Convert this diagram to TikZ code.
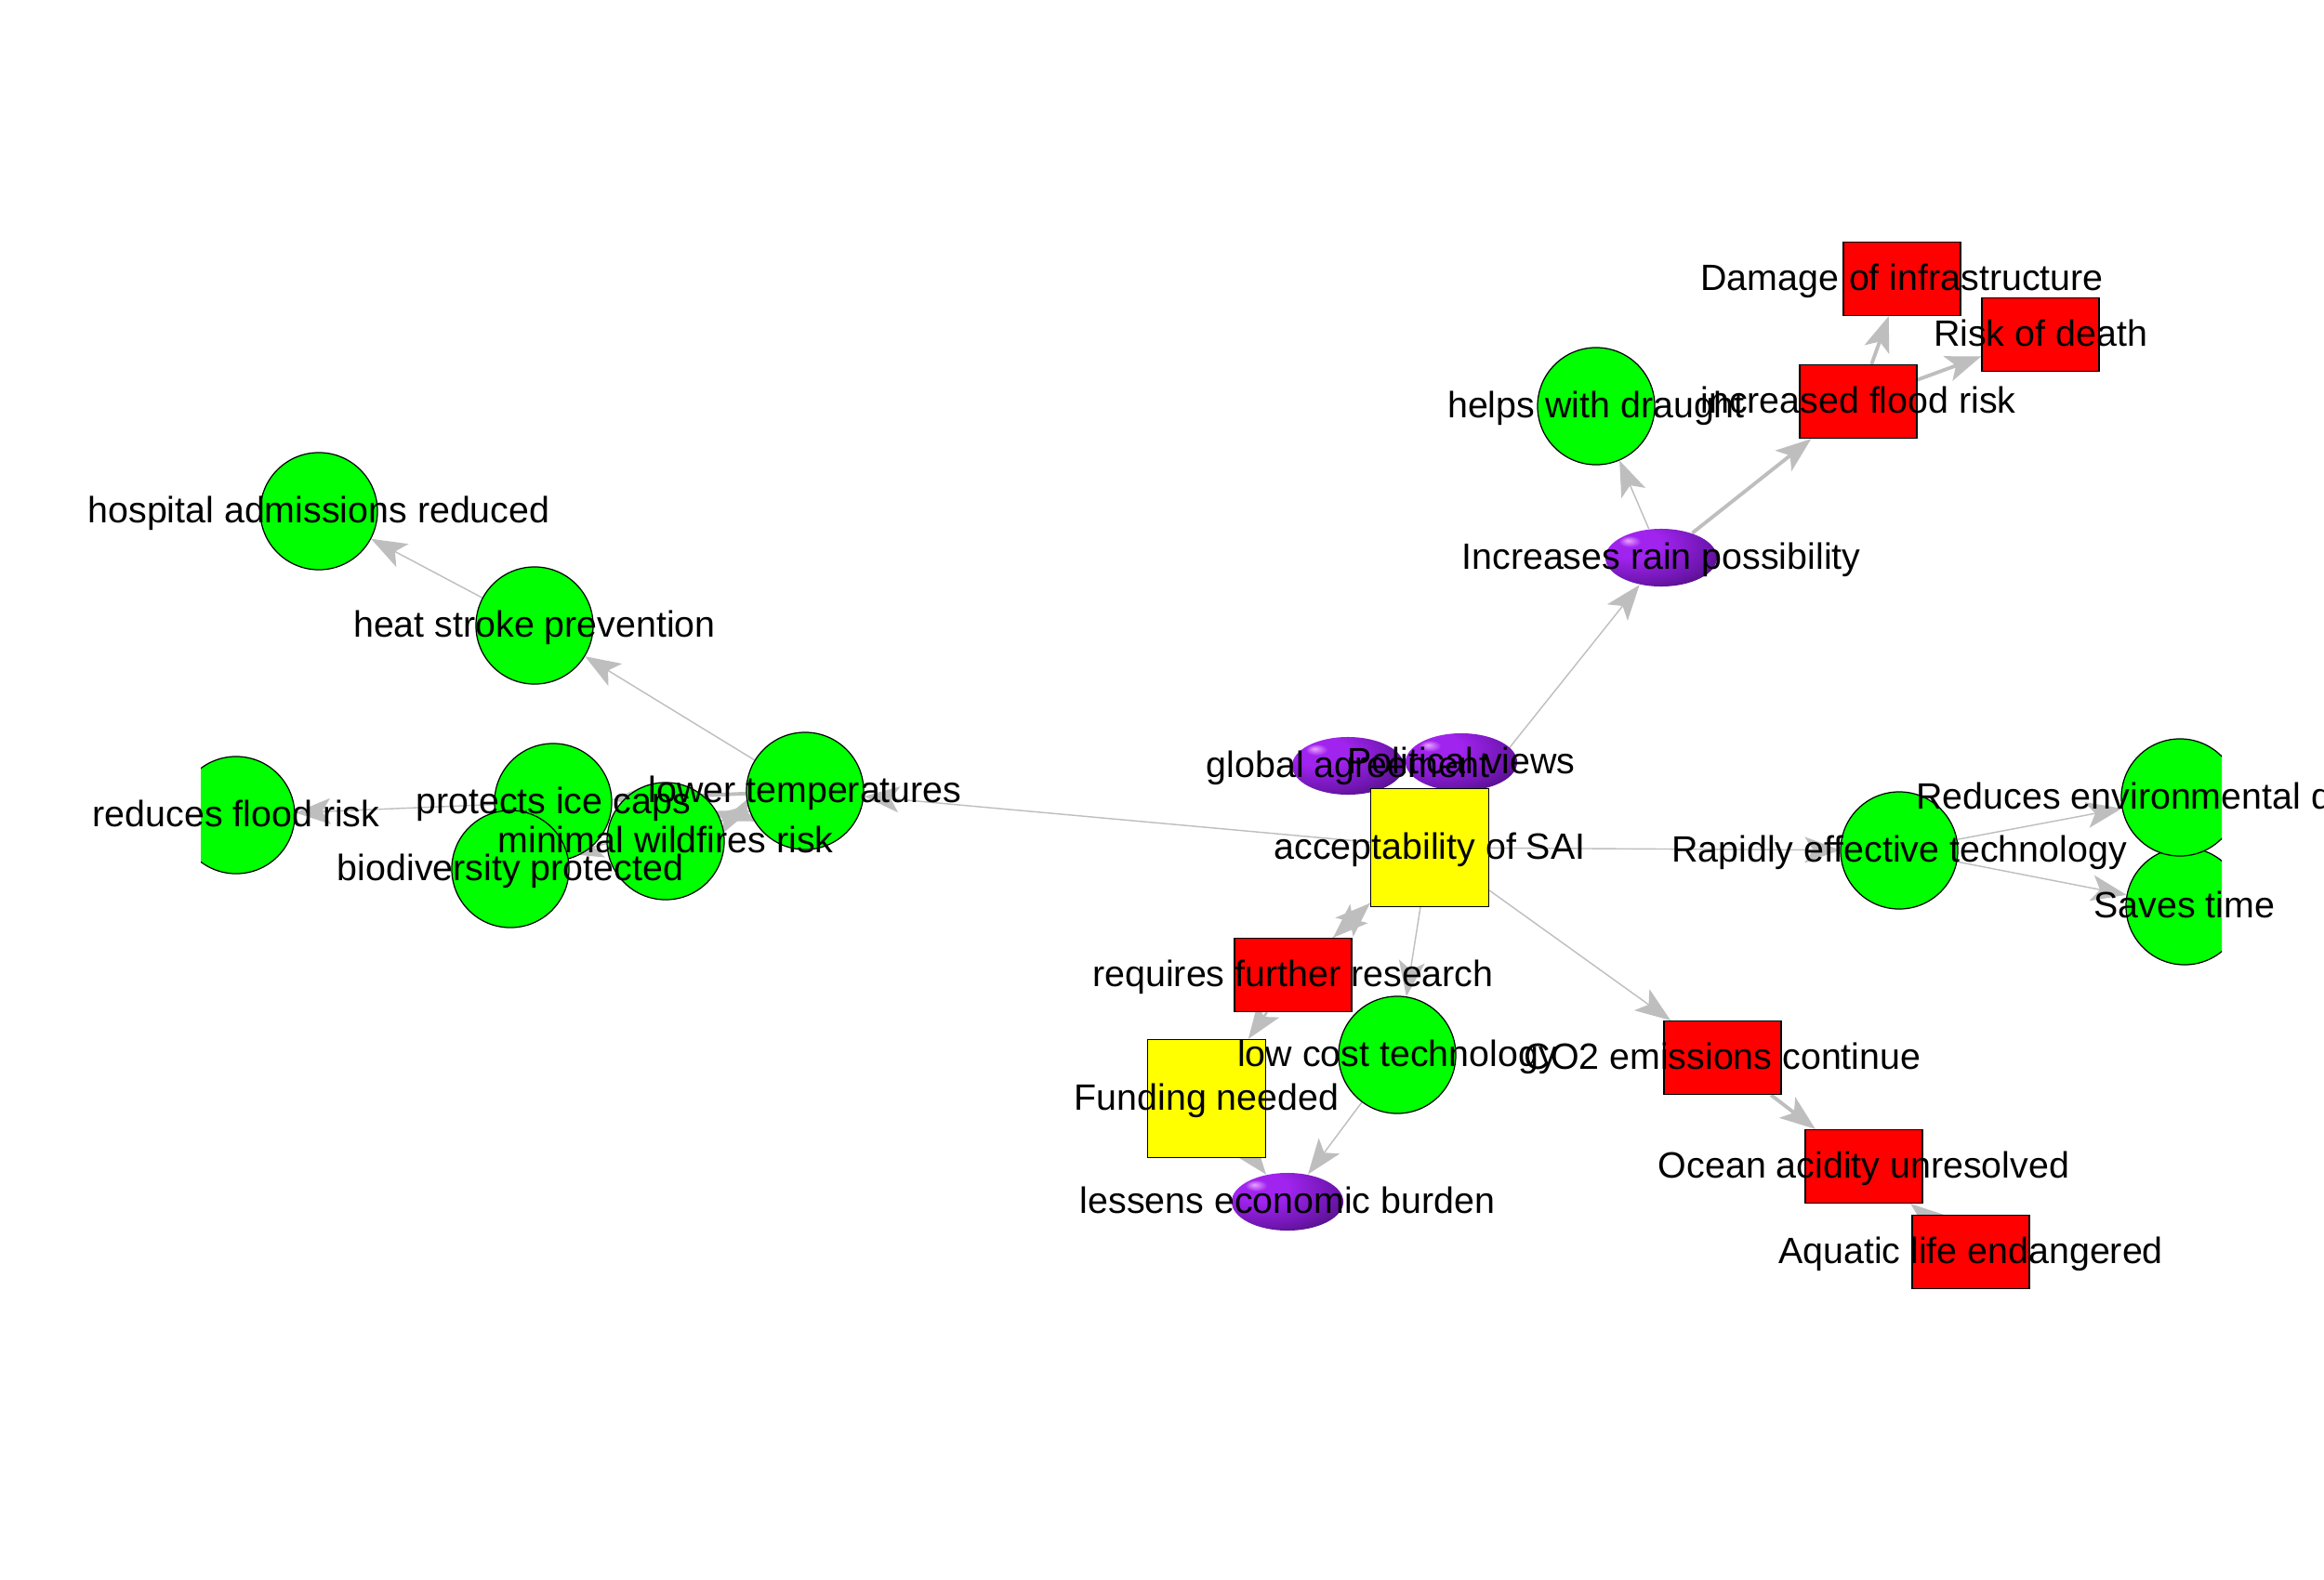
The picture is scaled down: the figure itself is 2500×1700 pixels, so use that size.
\documentclass[tikz,border=0pt]{standalone}
\usepackage{fontspec}
\setmainfont{Liberation Sans}
\usetikzlibrary{arrows.meta,shapes.geometric}
\definecolor{egray}{RGB}{190,190,190}
\definecolor{vgreen}{RGB}{0,255,0}
\definecolor{vred}{RGB}{255,0,0}
\definecolor{vyellow}{RGB}{255,255,0}
\definecolor{sphhl}{RGB}{235,165,255}
\definecolor{sphmid}{RGB}{160,35,238}
\definecolor{sphmidb}{RGB}{112,22,178}
\definecolor{sphdark}{RGB}{58,10,92}
\pgfdeclareradialshading{sph}{\pgfpoint{-15bp}{15bp}}{color(0bp)=(sphhl); color(5bp)=(sphmid); color(13bp)=(sphmid); color(30bp)=(sphmidb); color(46bp)=(sphdark); color(80bp)=(sphdark)}
\pgfdeclarelayer{edgelayer}
\pgfdeclarelayer{textlayer}
\pgfsetlayers{edgelayer,main,textlayer}
\begin{document}
\begin{tikzpicture}[x=0.01cm,y=-0.01cm,
  vc/.style={circle, draw=black, line width=0.35pt, fill=vgreen, minimum size=1.26cm, inner sep=0pt},
  vr/.style={rectangle, draw=black, line width=0.35pt, fill=vred, minimum width=1.26cm, minimum height=0.79cm, inner sep=0pt},
  vy/.style={rectangle, draw=black, line width=0.35pt, fill=vyellow, minimum width=1.27cm, minimum height=1.27cm, inner sep=0pt},
  vs/.style={ellipse, shade, shading=sph, minimum width=1.2cm, minimum height=0.62cm, inner sep=0pt},
  lbl/.style={font=\fontsize{11.2}{13}\selectfont, text=black, inner sep=0pt, anchor=base},
  edg/.style={draw=egray, line width=0.4pt, -{Stealth[length=0.38cm,width=0.28cm,inset=0.09cm]}},
  edgm/.style={edg, line width=0.7pt},
  edgt/.style={edg, line width=1.1pt}]
\useasboundingbox (0,0) rectangle (2500,1700);
\begin{pgfonlayer}{edgelayer}
\fill[white] (0,0) rectangle (2500,1700);
\end{pgfonlayer}

% vertices (clipped to the plot region)
\begin{scope}
\clip (216,0) rectangle (2390,1700);
\node[vc] (hosp) at (343,550) {};
\node[vc] (hs) at (575,673) {};
\node[vc] (rflood) at (254,877) {};
\node[vc] (ice) at (595,863) {};
\node[vc] (bio) at (549,935) {};
\node[vc] (wild) at (716,905) {};
\node[vc] (lowt) at (866,851) {};
\node[vc] (help) at (1717,437) {};
\node[vr] (dmg) at (2046,300) {};
\node[vr] (death) at (2195,360) {};
\node[vr] (flood) at (1999,432) {};
\node[vs] (rain) at (1787,600) {};
\node[vs] (glob) at (1450,824) {};
\node[vs] (pol) at (1572,820) {};
\node[vy] (acc) at (1538,912) {};
\node[vc] (rapid) at (2043,915) {};
\node[vc] (save) at (2350,975) {};
\node[vc] (renv) at (2345,858) {};
\node[vr] (req) at (1391,1049) {};
\node[vc] (low) at (1503,1135) {};
\node[vy] (fund) at (1298,1182) {};
\node[vs] (less) at (1385,1293) {};
\node[vr] (co2) at (1853,1138) {};
\node[vr] (ocean) at (2005,1255) {};
\node[vr] (aqua) at (2120,1347) {};
\end{scope}

% edges
\begin{pgfonlayer}{edgelayer}
\draw[edg] (hs) -- (hosp);
\draw[edg] (lowt) -- (hs);
\draw[edg] (acc) -- (lowt);
\draw[edgt] (lowt) -- (ice);
\draw[edgm] (lowt) -- (wild);
\draw[edgm] (wild) -- (lowt);
\draw[edg] (lowt) -- (bio);
\draw[edg] (ice) -- (rflood);
\draw[edg] (acc) -- (rain);
\draw[edg] (rain) -- (help);
\draw[edgt] (rain) -- (flood);
\draw[edgt] (flood) -- (dmg);
\draw[edgt] (flood) -- (death);
\draw[edg] (acc) -- (rapid);
\draw[edg] (rapid) -- (renv);
\draw[edg] (rapid) -- (save);
\draw[edg] (acc) -- (co2);
\draw[edgt] (co2) -- (ocean);
\draw[edgt] (aqua) -- (ocean);
\draw[edg] (acc) -- (req);
\draw[edg] (req) -- (acc);
\draw[edgm] (req) -- (fund);
\draw[edg] (acc) -- (low);
\draw[edg] (low) -- (less);
\draw[edgt] (fund) -- (less);
\draw[edg] (acc.center) -- (glob);
\end{pgfonlayer}

% labels
\begin{pgfonlayer}{textlayer}
\node[lbl] (t-hosp) at ([yshift=-0.12cm]hosp.center) {hospital admissions reduced};
\node[lbl] (t-hs) at ([yshift=-0.12cm]hs.center) {heat stroke prevention};
\node[lbl] (t-rflood) at ([yshift=-0.12cm]rflood.center) {reduces flood risk};
\node[lbl] (t-ice) at ([yshift=-0.12cm]ice.center) {protects ice caps};
\node[lbl] (t-bio) at ([yshift=-0.12cm]bio.center) {biodiversity protected};
\node[lbl] (t-wild) at ([yshift=-0.12cm]wild.center) {minimal wildfires risk};
\node[lbl] (t-lowt) at ([yshift=-0.12cm]lowt.center) {lower temperatures};
\node[lbl] (t-help) at ([yshift=-0.12cm]help.center) {helps with draught};
\node[lbl] (t-dmg) at ([yshift=-0.12cm]dmg.center) {Damage of infrastructure};
\node[lbl] (t-death) at ([yshift=-0.12cm]death.center) {Risk of death};
\node[lbl] (t-flood) at ([yshift=-0.12cm]flood.center) {increased flood risk};
\node[lbl] (t-rain) at ([yshift=-0.12cm]rain.center) {Increases rain possibility};
\node[lbl] (t-glob) at ([yshift=-0.12cm]glob.center) {global agreement};
\node[lbl] (t-pol) at ([yshift=-0.12cm]pol.center) {Political views};
\node[lbl] (t-acc) at ([yshift=-0.12cm]acc.center) {acceptability of SAI};
\node[lbl] (t-rapid) at ([yshift=-0.12cm]rapid.center) {Rapidly effective technology};
\node[lbl] (t-save) at ([yshift=-0.12cm]save.center) {Saves time};
\node[lbl] (t-renv) at ([yshift=-0.12cm]renv.center) {Reduces environmental damage};
\node[lbl] (t-req) at ([yshift=-0.12cm]req.center) {requires further research};
\node[lbl] (t-low) at ([yshift=-0.12cm]low.center) {low cost technology};
\node[lbl] (t-fund) at ([yshift=-0.12cm]fund.center) {Funding needed};
\node[lbl] (t-less) at ([yshift=-0.12cm]less.center) {lessens economic burden};
\node[lbl] (t-co2) at ([yshift=-0.12cm]co2.center) {CO2 emissions continue};
\node[lbl] (t-ocean) at ([yshift=-0.12cm]ocean.center) {Ocean acidity unresolved};
\node[lbl] (t-aqua) at ([yshift=-0.12cm]aqua.center) {Aquatic life endangered};
\end{pgfonlayer}
\end{tikzpicture}
\end{document}
